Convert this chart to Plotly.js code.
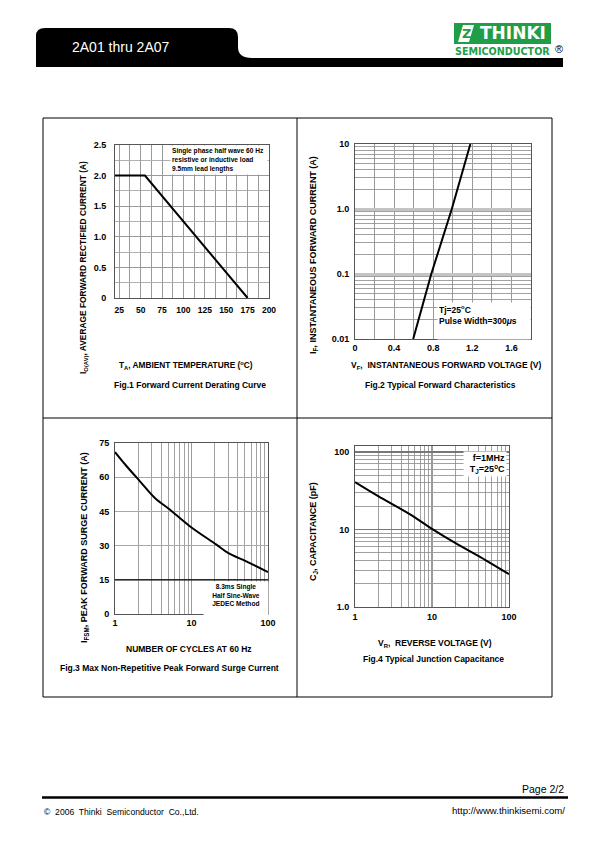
<!DOCTYPE html>
<html><head><meta charset="utf-8">
<script src="https://cdn.plot.ly/plotly-3.0.1.min.js"></script>
<style>html,body{margin:0;padding:0;background:#fff}#chart{width:595px;height:842px}</style>
</head><body><div id="chart"></div>
<script>
// ---------- Fig.1 Forward Current Derating Curve ----------
const fig1Temperature = [20, 55, 175];
const fig1Current = [2.0, 2.0, 0];
const fig1XTicks = [25, 50, 75, 100, 125, 150, 175, 200];
const fig1YTicks = [0, 0.5, 1.0, 1.5, 2.0, 2.5];
const fig1YTickText = ['0', '0.5', '1.0', '1.5', '2.0', '2.5'];

// ---------- Fig.2 Typical Forward Characteristics ----------
const fig2Voltage = [0.595, 0.78, 0.99, 1.18];
const fig2Current = [0.01, 0.1, 1, 10];
const fig2XTicks = [0, 0.4, 0.8, 1.2, 1.6];
const fig2XTickText = ['0', '0.4', '0.8', '1.2', '1.6'];
const fig2YTicks = [0.01, 0.1, 1, 10];
const fig2YTickText = ['0.01', '0.1', '1.0', '10'];
const fig2MinorY = [0.02,0.03,0.04,0.05,0.06,0.07,0.08,0.09,0.2,0.3,0.4,0.5,0.6,0.7,0.8,0.9,2,3,4,5,6,7,8,9];

// ---------- Fig.3 Max Non-Repetitive Peak Forward Surge Current ----------
const fig3Cycles = [1, 1.42, 2.12, 3.32, 5.2, 9.5, 21.2, 30, 52, 100];
const fig3Current = [71, 64.8, 58.2, 50.9, 45.8, 38.5, 30.4, 26.8, 23.1, 18.4];
const fig3XTicks = [1, 10, 100];
const fig3XTickText = ['1', '10', '100'];
const fig3YTicks = [0, 15, 30, 45, 60, 75];
const fig3MinorX = [2,3,4,5,6,7,8,9,20,30,40,50,60,70,80,90];

// ---------- Fig.4 Typical Junction Capacitance ----------
const fig4Voltage = [1, 2, 5, 10, 20, 50, 100];
const fig4Capacitance = [41, 27, 16, 10.2, 6.7, 4.0, 2.65];
const fig4XTicks = [1, 10, 100];
const fig4XTickText = ['1', '10', '100'];
const fig4YTicks = [1, 10, 100];
const fig4YTickText = ['1.0', '10', '100'];
const fig4MinorX = [2,3,4,5,6,7,8,9,20,30,40,50,60,70,80,90];
const fig4MinorY = [2,3,4,5,6,7,8,9,20,30,40,50,60,70,80,90];

// ---------- helpers (page pixels -> paper) ----------
const W = 595, H = 842;
const X = p => p / W;
const Y = p => 1 - p / H;
const P = (x, y) => `${X(x)},${Y(y)}`;
const FONT = 'Liberation Sans, Arial, sans-serif';
const bold = (size, color) => ({family: FONT, size: size, weight: 'bold', color: color || '#000'});

const baseAxis = {
  showline: true, linecolor: '#555', linewidth: 1, mirror: true,
  showgrid: true, gridcolor: '#9a9a9a', gridwidth: 1, zeroline: false,
  ticks: 'outside', ticklen: 4, tickcolor: 'rgba(0,0,0,0)',
  tickfont: bold(9), fixedrange: true
};
const ax = o => Object.assign({}, baseAxis, o);

const lineStyle = {color: '#000', width: 2};
const traces = [
  {x: fig1Temperature, y: fig1Current, xaxis: 'x', yaxis: 'y', mode: 'lines', line: lineStyle, hoverinfo: 'skip'},
  {x: fig2Voltage, y: fig2Current, xaxis: 'x2', yaxis: 'y2', mode: 'lines', line: lineStyle, hoverinfo: 'skip'},
  {x: fig3Cycles, y: fig3Current, xaxis: 'x3', yaxis: 'y3', mode: 'lines', line: Object.assign({shape: 'spline'}, lineStyle), hoverinfo: 'skip'},
  {x: fig4Voltage, y: fig4Capacitance, xaxis: 'x4', yaxis: 'y4', mode: 'lines', line: Object.assign({shape: 'spline'}, lineStyle), hoverinfo: 'skip'}
];

const layout = {
  width: W, height: H, margin: {l: 0, r: 0, t: 0, b: 0},
  paper_bgcolor: '#fff', plot_bgcolor: '#fff', showlegend: false,
  // Fig.1
  xaxis: ax({domain: [X(115), X(269)], range: [20, 200], anchor: 'y',
    tickmode: 'array', tickvals: fig1XTicks, tickfont: bold(8.5),
    minor: {tick0: 25, dtick: 12.5, showgrid: true, gridcolor: '#9a9a9a', ticks: ''}}),
  yaxis: ax({domain: [Y(298), Y(145)], range: [0, 2.5], anchor: 'x',
    tickmode: 'array', tickvals: fig1YTicks, ticktext: fig1YTickText, ticklen: 6,
    minor: {dtick: 0.25, showgrid: true, gridcolor: '#b0b0b0', ticks: ''}}),
  // Fig.2
  xaxis2: ax({domain: [X(355), X(531)], range: [0, 1.8], anchor: 'y2',
    tickmode: 'array', tickvals: fig2XTicks, ticktext: fig2XTickText, ticks: '',
    minor: {tick0: 0, dtick: 0.2, showgrid: true, gridcolor: '#9a9a9a', ticks: ''}}),
  yaxis2: ax({domain: [Y(339), Y(144)], type: 'log', range: [-2, 1], anchor: 'x2',
    tickmode: 'array', tickvals: fig2YTicks, ticktext: fig2YTickText, ticklen: 3,
    gridcolor: '#c4c4c4', gridwidth: 3,
    minor: {tickmode: 'array', tickvals: fig2MinorY, showgrid: true, gridcolor: '#8a8a8a', gridwidth: 0.8, ticks: ''}}),
  // Fig.3
  xaxis3: ax({domain: [X(115), X(268)], type: 'log', range: [0, 2], anchor: 'y3',
    tickmode: 'array', tickvals: fig3XTicks, ticktext: fig3XTickText, ticks: '',
    gridcolor: '#9a9a9a', gridwidth: 1.5,
    minor: {tickmode: 'array', tickvals: fig3MinorX, showgrid: true, gridcolor: '#8a8a8a', gridwidth: 0.8, ticks: ''}}),
  yaxis3: ax({domain: [Y(614), Y(443)], range: [0, 75], anchor: 'x3',
    tickmode: 'array', tickvals: fig3YTicks, ticklen: 3, gridcolor: '#a8a8a8', gridwidth: 1.2}),
  // Fig.4
  xaxis4: ax({domain: [X(355), X(509)], type: 'log', range: [0, 2], anchor: 'y4',
    tickmode: 'array', tickvals: fig4XTicks, ticktext: fig4XTickText, ticklen: 1,
    gridcolor: '#9a9a9a', gridwidth: 1.2,
    minor: {tickmode: 'array', tickvals: fig4MinorX, showgrid: true, gridcolor: '#8a8a8a', gridwidth: 0.8, ticks: ''}}),
  yaxis4: ax({domain: [Y(607), Y(446)], type: 'log', range: [0, 2.077], anchor: 'x4',
    tickmode: 'array', tickvals: fig4YTicks, ticktext: fig4YTickText, ticklen: 3,
    gridcolor: '#777', gridwidth: 1.2,
    minor: {tickmode: 'array', tickvals: fig4MinorY, showgrid: true, gridcolor: '#8a8a8a', gridwidth: 0.8, ticks: ''}}),
  shapes: [
    // header tab + bar
    {type: 'path', xref: 'paper', yref: 'paper', fillcolor: '#000', line: {width: 0},
      path: `M${P(36,67)} L${P(36,36)} Q${P(36,28)} ${P(45,28)} L${P(229,28)} Q${P(238,28)} ${P(238,37)} L${P(238,47)} Q${P(238,58)} ${P(252,58)} L${P(563,58)} L${P(563,67)} Z`},
    // logo green block
    {type: 'rect', xref: 'paper', yref: 'paper', x0: X(454), x1: X(551), y0: Y(44), y1: Y(23), fillcolor: '#1f9e47', line: {width: 0}},
    {type: 'path', xref: 'paper', yref: 'paper', fillcolor: '#fff', line: {width: 0},
      path: `M${P(458,42)} L${P(463,25)} L${P(474,25)} L${P(469,42)} Z`},
    // outer frame and dividers
    {type: 'rect', xref: 'paper', yref: 'paper', x0: X(43), x1: X(552), y0: Y(697), y1: Y(118), line: {color: '#000', width: 1}},
    {type: 'line', xref: 'paper', yref: 'paper', x0: X(297), x1: X(297), y0: Y(697), y1: Y(118), line: {color: '#000', width: 1}},
    {type: 'line', xref: 'paper', yref: 'paper', x0: X(43), x1: X(552), y0: Y(418), y1: Y(418), line: {color: '#000', width: 1}},
    // fig3 reference line at 15 A
    {type: 'line', xref: 'x3 domain', yref: 'y3', x0: 0, x1: 1, y0: 15, y1: 15, line: {color: '#000', width: 1.2}},
    // footer rule
    {type: 'line', xref: 'paper', yref: 'paper', x0: X(42), x1: X(568), y0: Y(797.5), y1: Y(797.5), line: {color: '#000', width: 2.5}}
  ],
  annotations: []
};

const A = (x, y, text, font, extra) => layout.annotations.push(Object.assign({
  xref: 'paper', yref: 'paper', x: X(x), y: Y(y), text: text, showarrow: false,
  xanchor: 'center', yanchor: 'middle', font: font}, extra || {}));

// header
A(70, 47, '2A01 thru 2A07', {family: FONT, size: 14, color: '#fff'}, {xanchor: 'left'});
A(466, 33.5, 'Z', {family: 'DejaVu Sans', size: 13, weight: 'bold', color: '#1f9e47'}, {});
A(513, 33.5, 'THINKI', {family: 'DejaVu Sans', size: 17, weight: 'bold', color: '#fff'}, {});
A(502.5, 52, 'SEMICONDUCTOR', {family: 'DejaVu Sans', size: 9.6, weight: 'bold', color: '#1f9e47'}, {});
A(559, 49, '®', {family: FONT, size: 11, color: '#000'}, {});

// footer
A(566, 789, 'Page 2/2', {family: FONT, size: 10.5, color: '#000'}, {xanchor: 'right'});
A(42, 812, '©  2006  Thinki  Semiconductor  Co.,Ltd.', {family: FONT, size: 8.6, color: '#000'}, {xanchor: 'left'});
A(567, 810, 'http://www.thinkisemi.com/', {family: FONT, size: 9.6, color: '#000'}, {xanchor: 'right'});

// Fig.1 texts
A(84, 268, 'I<sub>O(AV)</sub>, AVERAGE FORWARD RECTIFIED CURRENT (A)', bold(8.4), {textangle: -90});
A(186, 365, 'T<sub>A</sub>, AMBIENT TEMPERATURE (<sup>o</sup>C)', bold(8.3));
A(190, 385, 'Fig.1 Forward Current Derating Curve', bold(8.5));
A(170, 145, 'Single phase half wave 60 Hz<br>resistive or inductive load<br>9.5mm lead lengths', bold(6.6),
  {xanchor: 'left', yanchor: 'top', width: 94, height: 26, align: 'left', valign: 'middle', bgcolor: '#fff', borderpad: 1});

// Fig.2 texts
A(313, 255, 'I<sub>F</sub>, INSTANTANEOUS FORWARD CURRENT (A)', bold(9), {textangle: -90});
A(446, 365, 'V<sub>F</sub>,  INSTANTANEOUS FORWARD VOLTAGE (V)', bold(8.5));
A(440, 385, 'Fig.2 Typical Forward Characteristics', bold(8.5));
A(437, 302, 'Tj=25<sup>o</sup>C<br>Pulse Width=300<i>μ</i>s', bold(8.5),
  {xanchor: 'left', yanchor: 'top', width: 90, height: 34, align: 'left', valign: 'top', bgcolor: '#fff', borderpad: 1});

// Fig.3 texts
A(84, 548, 'I<sub>FSM</sub>, PEAK FORWARD SURGE CURRENT (A)', bold(9), {textangle: -90});
A(189, 649, 'NUMBER OF CYCLES AT 60 Hz', bold(8.5));
A(169, 668, 'Fig.3 Max Non-Repetitive Peak Forward Surge Current', bold(8.5));
A(203, 581, '8.3ms Single<br>Half Sine-Wave<br>JEDEC Method', bold(6.6),
  {xanchor: 'left', yanchor: 'top', width: 62, height: 31, align: 'center', valign: 'top', bgcolor: '#fff', borderpad: 1});

// Fig.4 texts
A(313, 532, 'C<sub>J</sub>, CAPACITANCE (pF)', bold(9), {textangle: -90});
A(435, 643, 'V<sub>R</sub>,  REVERSE VOLTAGE (V)', bold(8.5));
A(433, 659, 'Fig.4 Typical Junction Capacitance', bold(8.5));
A(507, 451, 'f=1MHz<br>T<sub>J</sub>=25<sup>o</sup>C', bold(9),
  {xanchor: 'right', yanchor: 'top', width: 40, height: 22, align: 'right', valign: 'middle', bgcolor: '#fff', borderpad: 1});

Plotly.newPlot('chart', traces, layout, {staticPlot: true, displayModeBar: false});
</script></body></html>
